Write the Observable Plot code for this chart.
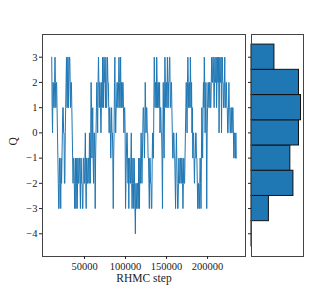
<!DOCTYPE html>
<html><head><meta charset="utf-8">
<script src="https://cdn.jsdelivr.net/npm/d3@7"></script>
<script src="https://cdn.jsdelivr.net/npm/@observablehq/plot@0.6"></script>
<style>
body{margin:0;background:#fff}
#c{position:relative;width:336px;height:288px}
#c svg{position:absolute;left:0;top:0;background:transparent}
</style>
</head><body><div id="c"></div>
<script>
// RHMC trajectory: Q sampled every 500 steps from step 10000
const stepStart = 10000;
const stepEvery = 500;
const qValues = [
  3,1,0,2,2,1,1,2,3,2,1,2,2,1,0,-1,-2,-3,-3,-1,
  -1,-2,-3,-1,-2,-1,0,1,1,0,0,-2,-2,0,1,2,3,1,1,3,
  3,1,2,3,3,2,1,2,2,1,0,-1,-2,-1,-1,-2,-3,-2,-1,-3,
  -2,-1,-3,-2,-1,-2,-2,-1,-1,-2,-3,-1,-1,-2,-2,-3,-3,-1,-1,-2,
  -2,-1,0,-2,-3,-1,-1,-2,-2,-1,-1,-2,0,-1,-2,0,2,1,-1,0,
  1,-1,-2,0,0,-1,-3,-1,0,1,2,1,0,2,3,2,1,2,2,1,
  0,1,2,1,3,2,1,3,3,2,2,1,3,1,1,2,3,2,2,1,
  0,1,1,0,-1,0,1,0,0,-1,-3,-1,0,2,3,1,0,1,1,2,
  2,1,1,2,3,2,1,2,3,1,2,1,1,2,2,1,0,1,1,0,
  -3,-2,-1,0,0,-1,-2,-1,-3,-1,-1,-2,-2,-1,0,-2,-3,-2,-1,-2,
  -3,-1,-2,-3,-4,-2,-2,-3,-3,-2,-2,-3,-1,-2,-3,-1,-2,-1,0,-1,
  -2,-1,0,1,1,0,-1,0,2,1,0,1,1,0,0,-1,-1,-2,-3,-1,
  -1,-2,-2,-3,-3,-1,0,-1,-1,1,3,2,1,2,2,1,3,2,1,2,
  2,1,1,2,0,1,1,0,0,-1,-3,0,2,0,-1,1,3,2,1,2,
  2,1,3,2,1,2,2,3,3,1,1,2,2,1,0,-1,-1,0,0,-1,
  -1,-2,-3,-1,0,-1,-2,-3,-3,-2,-1,-2,-2,-1,-1,-2,-2,-1,-1,-2,
  -3,-2,-1,-2,-2,-1,0,1,2,1,0,2,3,2,1,2,2,1,3,2,
  1,2,0,1,-1,0,0,-1,-2,-1,-1,0,0,-1,-1,-2,-3,-2,-2,-3,
  -3,-2,-1,-2,-3,-1,1,0,-1,1,2,1,3,2,0,1,2,0,-3,0,
  1,2,2,1,1,2,2,1,1,2,3,2,2,3,3,2,1,2,3,2,
  2,3,1,2,3,2,2,3,0,2,3,2,2,3,0,2,3,2,2,1,
  1,2,3,1,1,2,2,1,1,0,0,1,2,1,1,0,0,1,1,0,
  0,1,1,0,-1,0,0,-1,-1,0,-1
];
// Histogram of Q (counts)
const histQ = [-4,-3,-2,-1,0,1,2,3];
const histCount = [10,790,1905,1765,2157,2250,2157,1042];
const qTicks = [-4,-3,-2,-1,0,1,2,3];
const stepTicks = [50000,100000,150000,200000];
const xLabel = "RHMC step";
const yLabel = "Q";

const trace = qValues.map((q,i)=>({step: stepStart + i*stepEvery, q}));
const hist = histQ.map((q,i)=>({q, c: histCount[i]}));
const yDomain = [-4.9, 3.9];
const font = "'Liberation Serif', 'DejaVu Serif', serif";
const blue = "#1f77b4";

const main = Plot.plot({
  width: 336, height: 288,
  marginLeft: 42, marginRight: 91, marginTop: 34, marginBottom: 32,
  x: {domain: [-1250, 246250]},
  y: {domain: yDomain},
  style: {fontFamily: font, fontSize: "10.5px", background: "transparent", color: "#222"},
  marks: [
    Plot.line(trace, {x: "step", y: "q", stroke: blue, strokeWidth: 1}),
    Plot.frame({stroke: "#444", strokeWidth: 1}),
    Plot.axisX({ticks: stepTicks, tickSize: 3, tickPadding: 3, label: null, tickFormat: d3.format("d")}),
    Plot.axisY({ticks: qTicks, tickSize: 3, tickPadding: 2, label: null}),
    Plot.text([xLabel], {frameAnchor: "bottom", lineAnchor: "middle", text: d => d, dy: 22, fontSize: 11.5}),
    Plot.text([yLabel], {frameAnchor: "left", lineAnchor: "middle", text: d => d, dx: -29, rotate: -90, fontSize: 11.5})
  ]
});

const side = Plot.plot({
  width: 336, height: 288,
  marginLeft: 251, marginRight: 33, marginTop: 34, marginBottom: 32,
  x: {domain: [0, d3.max(histCount) * 1.05], axis: null},
  y: {domain: yDomain},
  style: {fontFamily: font, fontSize: "10.5px", background: "transparent", color: "#222"},
  marks: [
    Plot.rectX(hist, {y1: d => d.q - 0.5, y2: d => d.q + 0.5, x1: 0, x2: "c", fill: blue, stroke: "#111", strokeWidth: 1}),
    Plot.frame({stroke: "#444", strokeWidth: 1}),
    Plot.axisY({ticks: qTicks, tickSize: 3, tickFormat: () => "", label: null})
  ]
});

document.getElementById("c").append(main, side);
</script>
</body></html>
